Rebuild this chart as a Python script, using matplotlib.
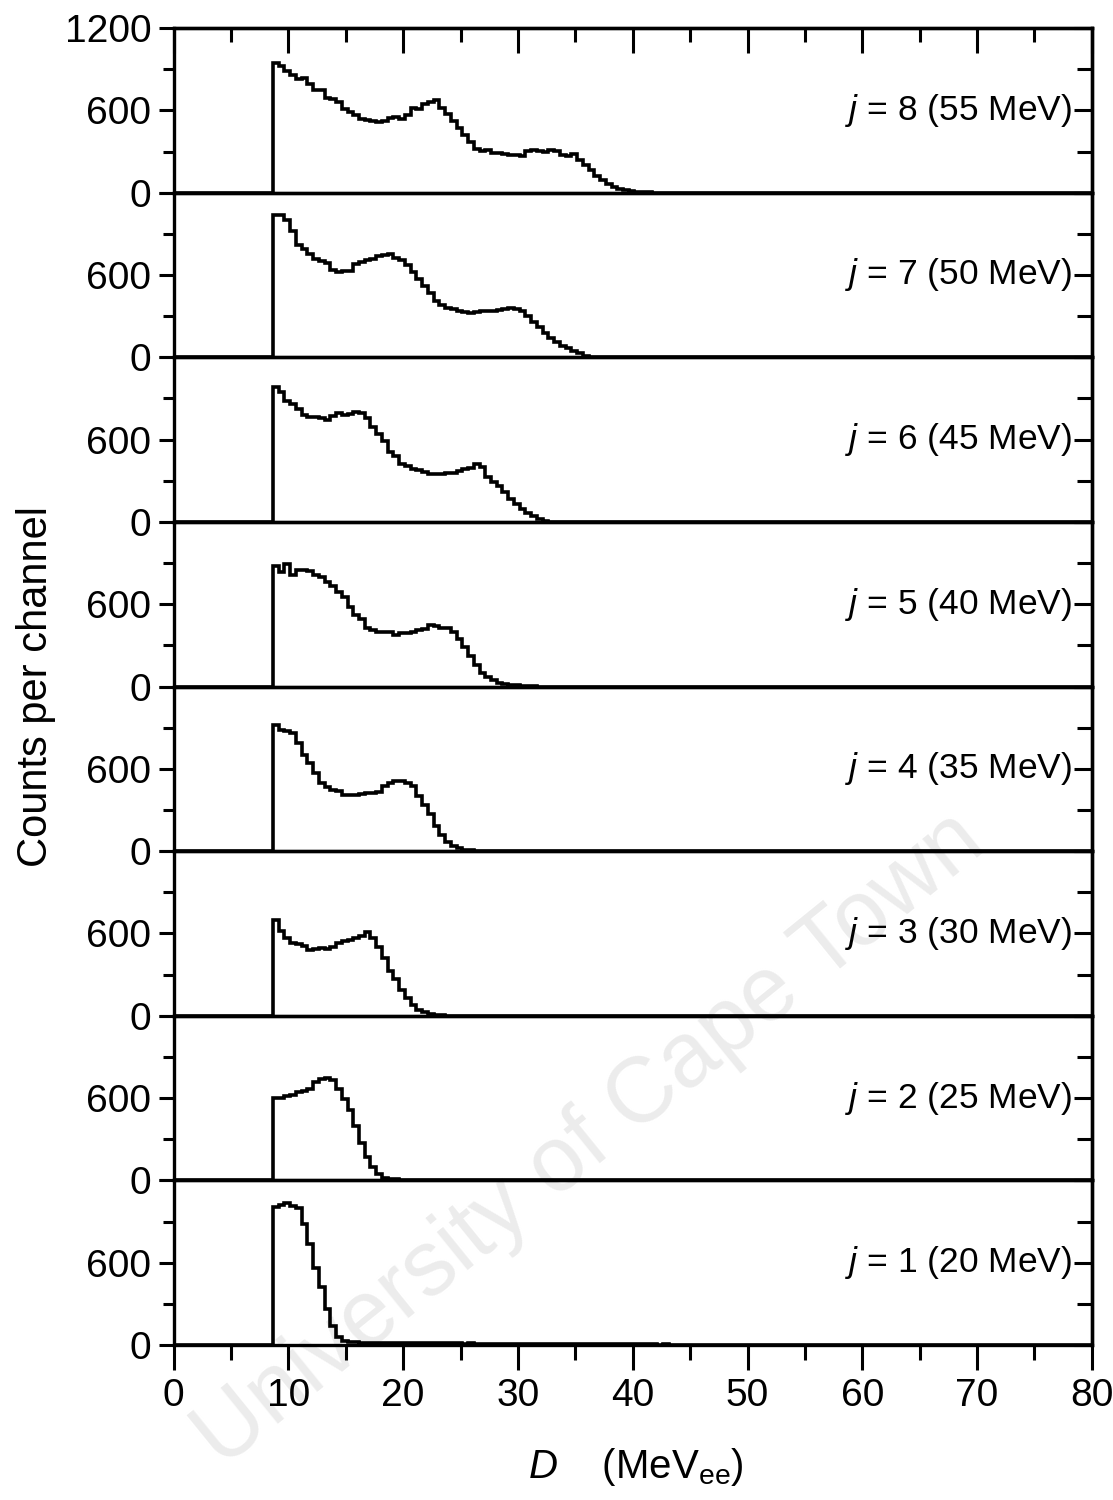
import numpy as np
import matplotlib
matplotlib.use("Agg")
import matplotlib.pyplot as plt
from matplotlib.ticker import FixedLocator, MultipleLocator, NullFormatter

plt.rcParams["font.family"] = ["Liberation Sans", "DejaVu Sans"]
plt.rcParams["mathtext.fontset"] = "custom"
plt.rcParams["mathtext.rm"] = "Liberation Sans"
plt.rcParams["mathtext.it"] = "Liberation Sans:italic"

# light-output spectra, 0.5 MeVee channels starting at the threshold
CHANNEL = 0.5
ONSET = 8.65

J_VALUES = [1, 2, 3, 4, 5, 6, 7, 8]
ENERGIES = [20, 25, 30, 35, 40, 45, 50, 55]

counts_j1 = [
    1005, 1018, 1035, 1015, 1000, 880, 740, 560, 420, 260, 140, 60, 30, 22,
    20, 18, 18, 17, 16, 16, 15, 15, 14, 14, 14, 13, 14, 13, 12, 13, 12, 12,
    12, 11, 12, 11, 11, 10, 11, 10, 10, 10, 9, 10, 9, 9, 8, 9, 8, 8,
    8, 7, 8, 7, 7, 7, 6, 7, 6, 6, 6, 5, 6, 5, 5, 5, 5, 4, 5, 4,
    4, 4, 4, 3, 4, 3, 3, 3, 3, 2, 2, 2,
]
counts_j2 = [
    599, 602, 613, 625, 642, 655, 670, 715, 740, 744, 730, 670, 590, 510,
    400, 270, 170, 100, 50, 20, 12, 8, 5, 5, 4,
]
counts_j3 = [
    700, 620, 570, 533, 520, 509, 480, 490, 495, 485, 505, 530, 545, 555,
    565, 585, 610, 565, 500, 420, 330, 270, 190, 130, 80, 45, 25, 12, 8, 5,
]
counts_j4 = [
    921, 880, 873, 860, 790, 700, 640, 570, 500, 470, 448, 440, 412, 410,
    412, 418, 424, 424, 430, 473, 495, 509, 509, 495, 473, 400, 340, 270,
    180, 115, 65, 40, 20, 10, 5,
]
counts_j5 = [
    880, 836, 890, 815, 848, 848, 845, 810, 800, 764, 730, 690, 655, 580,
    520, 490, 430, 415, 400, 398, 395, 375, 388, 390, 400, 412, 420, 448,
    440, 425, 424, 400, 350, 290, 220, 160, 100, 70, 45, 25, 20, 10, 8, 7,
    5, 3,
]
counts_j6 = [
    982, 950, 885, 860, 825, 780, 765, 764, 760, 745, 770, 795, 780, 790,
    800, 795, 760, 690, 640, 590, 510, 480, 420, 405, 385, 375, 365, 352,
    350, 352, 358, 360, 370, 383, 390, 420, 400, 330, 290, 260, 215, 170,
    130, 95, 65, 40, 20, 8, 3,
]
counts_j7 = [
    1037, 1037, 1000, 920, 820, 790, 755, 720, 705, 691, 640, 625, 630, 630,
    680, 695, 712, 720, 735, 748, 750, 725, 712, 670, 620, 570, 520, 470,
    410, 380, 360, 355, 335, 327, 325, 330, 335, 335, 340, 345, 350, 358,
    355, 340, 300, 255, 220, 180, 140, 115, 85, 70, 45, 30, 12, 4,
]
counts_j8 = [
    945, 925, 885, 860, 830, 836, 790, 745, 750, 690, 680, 660, 612, 590,
    565, 538, 533, 526, 512, 525, 545, 555, 540, 565, 618, 612, 650, 662,
    672, 620, 575, 520, 470, 420, 370, 320, 305, 312, 292, 290, 282, 278,
    272, 268, 305, 310, 303, 300, 308, 305, 275, 268, 280, 240, 200, 165,
    125, 95, 65, 45, 30, 20, 12, 6, 4, 2,
]

SPECTRA = [counts_j1, counts_j2, counts_j3, counts_j4,
           counts_j5, counts_j6, counts_j7, counts_j8]
LABELS = [f"$j$ = {j} ({e} MeV)" for j, e in zip(J_VALUES, ENERGIES)]

X_MAX = 80
Y_MAX = 1200

fig = plt.figure(figsize=(11.13, 15.0), dpi=100)
left, right, top, bottom = 0.156, 0.981, 0.9813, 0.1033
panel_h = (top - bottom) / len(SPECTRA)

fig.text(0.53, 0.24, "University of Cape Town", rotation=39, fontsize=66,
         color="#ececec", ha="center", va="center", zorder=-1)

FS = 28
for i, (values, label) in enumerate(zip(SPECTRA, LABELS)):
    ax = fig.add_axes([left, bottom + i * panel_h, right - left, panel_h])
    ax.patch.set_alpha(0)
    edges = ONSET + CHANNEL * np.arange(len(values) + 1)
    edges = np.concatenate([[0], edges, [X_MAX]])
    steps = np.concatenate([[0], values, [0]])
    ax.stairs(steps, edges, baseline=None, color="black", lw=2.6)
    ax.set_xlim(0, X_MAX)
    ax.set_ylim(0, Y_MAX)
    for sp in ax.spines.values():
        sp.set_linewidth(2.4)

    ax.yaxis.set_major_locator(FixedLocator([0, 600, 1200]))
    ax.yaxis.set_minor_locator(FixedLocator([300, 900]))
    is_top = i == len(SPECTRA) - 1
    ax.set_yticklabels(["0", "600", "1200" if is_top else ""])
    ax.tick_params(axis="y", which="major", direction="out", length=11,
                   width=2.2, labelsize=FS, pad=5, right=False)
    ax.tick_params(axis="y", which="minor", direction="out", length=8,
                   width=2.2, right=False)

    sec = ax.secondary_yaxis("right")
    sec.yaxis.set_major_locator(FixedLocator([0, 600, 1200]))
    sec.yaxis.set_minor_locator(FixedLocator([300, 900]))
    sec.yaxis.set_major_formatter(NullFormatter())
    sec.tick_params(which="major", direction="in", length=13, width=2.2)
    sec.tick_params(which="minor", direction="in", length=11, width=2.2)
    sec.spines["right"].set_linewidth(2.4)

    ax.xaxis.set_major_locator(MultipleLocator(10))
    ax.xaxis.set_minor_locator(MultipleLocator(5))
    if i == 0:
        ax.tick_params(axis="x", which="major", direction="out", length=18,
                       width=2.2, labelsize=FS, pad=6, top=False)
        ax.tick_params(axis="x", which="minor", direction="out", length=11,
                       width=2.2, top=False)
    else:
        ax.tick_params(axis="x", which="both", bottom=False, top=False,
                       labelbottom=False)
    if is_top:
        secx = ax.secondary_xaxis("top")
        secx.xaxis.set_major_locator(MultipleLocator(10))
        secx.xaxis.set_minor_locator(MultipleLocator(5))
        secx.xaxis.set_major_formatter(NullFormatter())
        secx.tick_params(which="major", direction="in", length=18, width=2.2)
        secx.tick_params(which="minor", direction="in", length=10, width=2.2)
        secx.spines["top"].set_linewidth(2.4)

    ax.text(78.3, 600, label, ha="right", va="center", fontsize=25.5)

fig.text(0.032, (top + bottom) / 2, "Counts per channel", rotation=90,
         ha="center", va="center", fontsize=30)
fig.text(0.571, 0.022, "$D$    (MeV$_{\\rm ee}$)", ha="center", va="center",
         fontsize=29)

fig.savefig("out.png", dpi=100)
